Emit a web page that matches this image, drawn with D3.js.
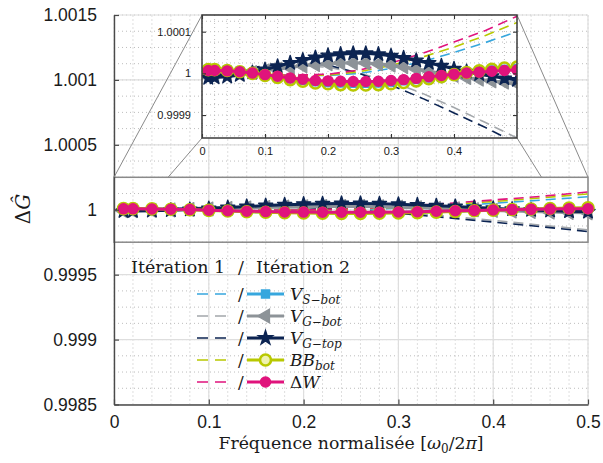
<!DOCTYPE html>
<html><head><meta charset="utf-8">
<script src="https://cdn.jsdelivr.net/npm/d3@7"></script>
<style>
html,body{margin:0;padding:0;background:#fff;}
svg{display:block;}
</style></head>
<body>
<svg id="chart" width="603" height="463"></svg>
<script>
// ---------- DATA ----------
const freq2 = [0.01,0.02,0.04,0.06,0.08,0.10,0.12,0.14,0.16,0.18,0.20,0.22,0.24,0.26,0.28,0.30,0.32,0.34,0.36,0.38,0.40,0.42,0.44,0.46,0.48,0.50];
const vsBot2 = [1.000010,1.000010,1.000008,1.000005,1.000001,0.999996,0.999992,0.999987,0.999983,0.999980,0.999978,0.999977,0.999976,0.999976,0.999977,0.999979,0.999982,0.999985,0.999989,0.999994,0.999998,1.000002,1.000005,1.000008,1.000010,1.000012];
const vgBot2 = [0.999992,0.999993,0.999995,0.999998,1.000002,1.000006,1.000010,1.000014,1.000018,1.000021,1.000023,1.000025,1.000025,1.000025,1.000023,1.000020,1.000016,1.000011,1.000006,1.000000,0.999995,0.999990,0.999986,0.999982,0.999979,0.999976];
const vgTop2 = [0.999989,0.999990,0.999992,0.999996,1.000002,1.000009,1.000017,1.000025,1.000032,1.000038,1.000043,1.000046,1.000048,1.000048,1.000046,1.000042,1.000037,1.000031,1.000025,1.000018,1.000011,1.000004,0.999998,0.999993,0.999988,0.999984];
const bbBot2 = [1.000009,1.000009,1.000007,1.000004,1.000000,0.999995,0.999990,0.999985,0.999981,0.999977,0.999975,0.999973,0.999972,0.999972,0.999973,0.999975,0.999978,0.999982,0.999987,0.999992,0.999997,1.000002,1.000006,1.000010,1.000013,1.000015];
const dW2 = [1.000007,1.000007,1.000006,1.000004,1.000001,0.999997,0.999993,0.999989,0.999986,0.999983,0.999982,0.999981,0.9999805,0.9999805,0.999981,0.999983,0.999985,0.999988,0.999992,0.999995,0.999998,1.000001,1.000003,1.000005,1.000007,1.000008];

const freq1 = [0,0.05,0.10,0.15,0.20,0.25,0.30,0.35,0.40,0.45,0.50];
const vsBot1 = [1.000000,0.999998,0.999996,0.999995,0.999995,1.000000,1.000012,1.000028,1.000050,1.000074,1.000100];
const vgBot1 = [1.000000,1.000006,1.000014,1.000018,1.000015,1.000000,0.999980,0.999952,0.999918,0.999882,0.999845];
const vgTop1 = [1.000000,1.000008,1.000018,1.000024,1.000020,1.000000,0.999972,0.999940,0.999905,0.999870,0.999832];
const bbBot1 = [1.000000,0.999998,0.999996,0.999995,0.999996,1.000004,1.000019,1.000039,1.000063,1.000091,1.000122];
const dW1 = [1.000000,0.999998,0.999996,0.999996,0.999998,1.000008,1.000025,1.000048,1.000075,1.000103,1.000137];

const xTicksMain = [0,0.1,0.2,0.3,0.4,0.5];
const yTicksMain = [0.9985,0.999,0.9995,1,1.0005,1.001,1.0015];
const xTicksInset = [0,0.1,0.2,0.3,0.4];
const yTicksInset = [0.9999,1,1.0001];
const zoomBox = {x0:0, x1:0.5, y0:0.99975, y1:1.00025};

// ---------- STYLE ----------
const series = [
  {key:"vs", v1:vsBot1, v2:vsBot2, color:"#37a7de", dcolor:"#37a7de", sym:d3.symbolSquare, size:64, fill:"#37a7de"},
  {key:"vgb", v1:vgBot1, v2:vgBot2, color:"#8d9398", dcolor:"#a3a7ab", sym:d3.symbolTriangle, size:80, fill:"#8d9398", rot:-90},
  {key:"vgt", v1:vgTop1, v2:vgTop2, color:"#0c2452", dcolor:"#0c2452", sym:d3.symbolStar, size:62, fill:"#0c2452"},
  {key:"bb", v1:bbBot1, v2:bbBot2, color:"#b8c800", dcolor:"#b8c800", sym:d3.symbolCircle, size:95, fill:"none", open:true},
  {key:"dw", v1:dW1, v2:dW2, color:"#e0137c", dcolor:"#e0137c", sym:d3.symbolCircle, size:80, fill:"#e0137c"}
];

const svg = d3.select("#chart");
const x = d3.scaleLinear([0,0.5],[114,588]);
const y = d3.scaleLinear([0.9985,1.0015],[404.5,15]);

// ---------- MAIN GRID ----------
const gGrid = svg.append("g");
const xMinor = d3.range(0, 0.5001, 0.02);
const yMinor = d3.range(0, 25).map(i => 0.9985 + i*0.000125);
gGrid.selectAll(".xm").data(xMinor).join("line")
  .attr("x1",d=>x(d)).attr("x2",d=>x(d)).attr("y1",y.range()[0]).attr("y2",y.range()[1])
  .attr("stroke","#bdbdbd").attr("stroke-width",1).attr("stroke-dasharray","1,3");
gGrid.selectAll(".ym").data(yMinor).join("line")
  .attr("y1",d=>y(d)).attr("y2",d=>y(d)).attr("x1",x.range()[0]).attr("x2",x.range()[1])
  .attr("stroke","#bdbdbd").attr("stroke-width",1).attr("stroke-dasharray","1,3");
gGrid.selectAll(".xM").data(xTicksMain).join("line")
  .attr("x1",d=>x(d)).attr("x2",d=>x(d)).attr("y1",y.range()[0]).attr("y2",y.range()[1])
  .attr("stroke","#dedede").attr("stroke-width",1.2);
gGrid.selectAll(".yM").data(yTicksMain).join("line")
  .attr("y1",d=>y(d)).attr("y2",d=>y(d)).attr("x1",x.range()[0]).attr("x2",x.range()[1])
  .attr("stroke","#dedede").attr("stroke-width",1.2);

// ---------- SERIES DRAW ----------
function drawSeries(g, xs, ys, markerScale){
  series.forEach(s=>{
    const l1 = d3.line().x((d,i)=>xs(freq1[i])).y(d=>ys(d));
    g.append("path").attr("d", l1(s.v1)).attr("fill","none")
      .attr("stroke", s.dcolor).attr("stroke-width",1.6).attr("stroke-dasharray","10,6");
  });
  series.forEach(s=>{
    const l2 = d3.line().x((d,i)=>xs(freq2[i])).y(d=>ys(d));
    g.append("path").attr("d", l2(s.v2)).attr("fill","none")
      .attr("stroke", s.color).attr("stroke-width",3);
    const sym = d3.symbol().type(s.sym).size(s.size*markerScale);
    g.selectAll(null).data(s.v2).join("path")
      .attr("d", sym)
      .attr("transform",(d,i)=>`translate(${xs(freq2[i])},${ys(d)})` + (s.rot?` rotate(${s.rot})`:""))
      .attr("fill", s.open ? "none" : s.fill)
      .attr("stroke", s.color).attr("stroke-width", s.open?2.6:1.4)
      .attr("stroke-linejoin","round");
  });
}

// zoom rectangle
svg.append("rect")
  .attr("x", x(zoomBox.x0)).attr("y", y(zoomBox.y1))
  .attr("width", x(zoomBox.x1)-x(zoomBox.x0)).attr("height", y(zoomBox.y0)-y(zoomBox.y1))
  .attr("fill","none").attr("stroke","#8a8a8a").attr("stroke-width",1.5);

drawSeries(svg.append("g"), x, y, 1);

// ---------- MAIN AXES ----------
const tickFont = "'Liberation Sans', Arial, sans-serif";
const axL = svg.append("g").attr("transform",`translate(${x(0)},0)`)
  .call(d3.axisLeft(y).tickValues(yTicksMain).tickSize(-5).tickSizeOuter(0).tickPadding(17).tickFormat(d=>String(d)));
const axB = svg.append("g").attr("transform",`translate(0,${y(0.9985)})`)
  .call(d3.axisBottom(x).tickValues(xTicksMain).tickSize(-5).tickSizeOuter(0).tickPadding(11).tickFormat(d=>String(d)));
[axL,axB].forEach(a=>{
  a.select(".domain").attr("stroke","#4a4a4a").attr("stroke-width",1.4);
  a.selectAll(".tick line").attr("stroke","#4a4a4a").attr("stroke-width",1.2);
  a.selectAll("text").attr("font-family",tickFont).attr("font-size",17.5).attr("fill","#1a1a1a");
});

// ---------- INSET ----------
const inset = {left:202, top:15, width:315, height:123};
const xi = d3.scaleLinear([0,0.5],[inset.left, inset.left+inset.width]);
const yi = d3.scaleLinear([0.999845,1.00014],[inset.top+inset.height, inset.top]);

// connector lines
const conn = [
  [x(zoomBox.x0), y(zoomBox.y1), inset.left, inset.top],
  [x(0.057), y(zoomBox.y1), inset.left, inset.top+inset.height],
  [x(zoomBox.x1), y(zoomBox.y1), inset.left+inset.width, inset.top],
  [x(0.451), y(zoomBox.y1), inset.left+inset.width, inset.top+inset.height]
];
svg.selectAll(".conn").data(conn).join("line")
  .attr("x1",d=>d[0]).attr("y1",d=>d[1]).attr("x2",d=>d[2]).attr("y2",d=>d[3])
  .attr("stroke","#8a8a8a").attr("stroke-width",1);

const gi = svg.append("g");
gi.append("rect").attr("x",inset.left).attr("y",inset.top).attr("width",inset.width).attr("height",inset.height).attr("fill","#fff");
gi.append("clipPath").attr("id","iclip").append("rect")
  .attr("x",inset.left).attr("y",inset.top).attr("width",inset.width).attr("height",inset.height);
const giGrid = gi.append("g");
const xiMinor = d3.range(0, 0.5001, 0.02);
const yiMinor = d3.range(-6, 6).map(i => 1 + i*0.000025);
giGrid.selectAll(".a").data(xiMinor).join("line")
  .attr("x1",d=>xi(d)).attr("x2",d=>xi(d)).attr("y1",inset.top).attr("y2",inset.top+inset.height)
  .attr("stroke","#bdbdbd").attr("stroke-dasharray","1,3");
giGrid.selectAll(".b").data(yiMinor.filter(v=>yi(v)>inset.top && yi(v)<inset.top+inset.height)).join("line")
  .attr("y1",d=>yi(d)).attr("y2",d=>yi(d)).attr("x1",inset.left).attr("x2",inset.left+inset.width)
  .attr("stroke","#bdbdbd").attr("stroke-dasharray","1,3");
const gData = gi.append("g").attr("clip-path","url(#iclip)");
drawSeries(gData, xi, yi, 1);

const insetFont = 11;
const iaB = gi.append("g").attr("transform",`translate(0,${inset.top+inset.height})`)
  .call(d3.axisBottom(xi).tickValues(xTicksInset).tickSize(-4).tickSizeOuter(0).tickPadding(9).tickFormat(d=>String(d)));
const iaT = gi.append("g").attr("transform",`translate(0,${inset.top})`)
  .call(d3.axisTop(xi).tickValues(xTicksInset).tickSize(-4).tickSizeOuter(0).tickFormat(""));
const iaL = gi.append("g").attr("transform",`translate(${inset.left},0)`)
  .call(d3.axisLeft(yi).tickValues(yTicksInset).tickSize(-4).tickSizeOuter(0).tickPadding(11).tickFormat(d=>String(d)));
const iaR = gi.append("g").attr("transform",`translate(${inset.left+inset.width},0)`)
  .call(d3.axisRight(yi).tickValues(yTicksInset).tickSize(-4).tickSizeOuter(0).tickFormat(""));
[iaB,iaT,iaL,iaR].forEach(a=>{
  a.select(".domain").remove();
  a.selectAll(".tick line").attr("stroke","#333").attr("stroke-width",1.1);
  a.selectAll("text").attr("font-family",tickFont).attr("font-size",insetFont).attr("fill","#1a1a1a");
});
gi.append("rect").attr("x",inset.left).attr("y",inset.top).attr("width",inset.width).attr("height",inset.height)
  .attr("fill","none").attr("stroke","#3a3a3a").attr("stroke-width",1.5);

// ---------- LABELS ----------
const serif = "'DejaVu Serif', 'Liberation Serif', serif";
const xl = svg.append("text").attr("x",(x(0)+x(0.5))/2).attr("y",449).attr("text-anchor","middle")
  .attr("font-family",serif).attr("font-size",17.3).attr("fill","#1a1a1a");
xl.append("tspan").text("Fréquence normalisée [");
xl.append("tspan").attr("font-style","italic").text("ω");
xl.append("tspan").attr("font-size",12).attr("dy",4).text("0");
xl.append("tspan").attr("dy",-4).text("/2");
xl.append("tspan").attr("font-style","italic").text("π");
xl.append("tspan").text("]");

const yl = svg.append("text").attr("transform","translate(30,209) rotate(-90)").attr("text-anchor","middle")
  .attr("font-family",serif).attr("font-size",20).attr("fill","#1a1a1a");
yl.append("tspan").text("Δ");
yl.append("tspan").attr("font-style","italic").text("Ĝ");

// ---------- LEGEND ----------
const lg = svg.append("g").attr("font-family",serif).attr("fill","#1a1a1a");
lg.append("text").attr("x",131).attr("y",273).attr("font-size",17.5).text("Itération 1");
lg.append("text").attr("x",238).attr("y",273).attr("font-size",17.5).text("/");
lg.append("text").attr("x",256).attr("y",273).attr("font-size",17.5).text("Itération 2");
const rowY = [294,316,338,360,382];
const subs = ["S−bot","G−bot","G−top","bot","W"];
series.forEach((s,i)=>{
  const ry = rowY[i];
  lg.append("line").attr("x1",197).attr("x2",227).attr("y1",ry).attr("y2",ry)
    .attr("stroke",s.dcolor).attr("stroke-width",1.6).attr("stroke-dasharray","11,7");
  lg.append("text").attr("x",238).attr("y",ry+6).attr("font-size",17).text("/");
  lg.append("line").attr("x1",247).attr("x2",284).attr("y1",ry).attr("y2",ry)
    .attr("stroke",s.color).attr("stroke-width",3);
  lg.append("path").attr("d", d3.symbol().type(s.sym).size(s.size)())
    .attr("transform",`translate(265.5,${ry})` + (s.rot?` rotate(${s.rot})`:""))
    .attr("fill", s.open?"#eef2b0":s.fill).attr("stroke",s.color).attr("stroke-width",s.open?2.6:1.4);
  const t = lg.append("text").attr("x",290).attr("y",ry+6).attr("font-size",17);
  if(i<3){
    t.append("tspan").attr("font-style","italic").text("V");
    t.append("tspan").attr("font-style","italic").attr("font-size",12).attr("dy",4).text(subs[i]);
  } else if(i===3){
    t.append("tspan").attr("font-style","italic").text("BB");
    t.append("tspan").attr("font-style","italic").attr("font-size",12).attr("dy",4).text("bot");
  } else {
    t.append("tspan").text("Δ");
    t.append("tspan").attr("font-style","italic").text("W");
  }
});
</script>
</body></html>
